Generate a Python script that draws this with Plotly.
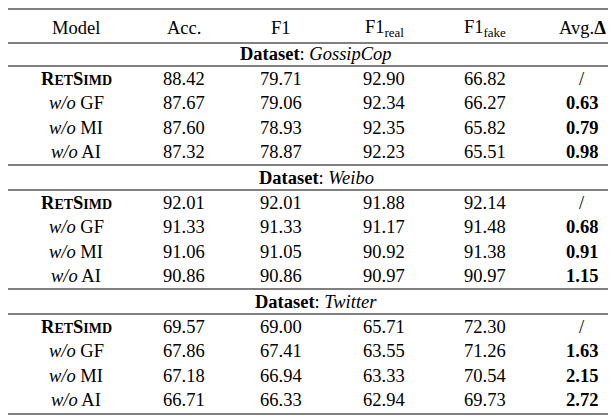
import plotly.graph_objects as go

W, H = 616, 420
headers = ["Model", "Acc.", "F1", "F1<sub>real</sub>", "F1<sub>fake</sub>", "Avg.<b>Δ</b>"]
datasets = ["GossipCop", "Weibo", "Twitter"]
models = ["<b>R<span style='font-size:14px'>ET</span>S<span style='font-size:14px'>IMD</span></b>",
          "<i>w/o</i> GF", "<i>w/o</i> MI", "<i>w/o</i> AI"]
acc = [[88.42, 87.67, 87.60, 87.32], [92.01, 91.33, 91.06, 90.86], [69.57, 67.86, 67.18, 66.71]]
f1 = [[79.71, 79.06, 78.93, 78.87], [92.01, 91.33, 91.05, 90.86], [69.00, 67.41, 66.94, 66.33]]
f1_real = [[92.90, 92.34, 92.35, 92.23], [91.88, 91.17, 90.92, 90.97], [65.71, 63.55, 63.33, 62.94]]
f1_fake = [[66.82, 66.27, 65.82, 65.51], [92.14, 91.48, 91.38, 90.97], [72.30, 71.26, 70.54, 69.73]]
avg_delta = [["/", "0.63", "0.79", "0.98"], ["/", "0.68", "0.91", "1.15"], ["/", "1.63", "2.15", "2.72"]]

col_x = [68, 176, 273, 376, 477, 574]
font = dict(family="Liberation Serif", size=18.5, color="black")

fig = go.Figure()
ann = []
def add(x, y, t):
    ann.append(dict(x=x, y=y, text=t, showarrow=False, xref="x", yref="y",
                    xanchor="center", yanchor="middle", font=font))

for x, h in zip(col_x, headers):
    add(x, 20, h)
shapes = []
def hline(y):
    shapes.append(dict(type="line", x0=0, x1=W, y0=y, y1=y, xref="x", yref="y",
                       line=dict(color="black", width=1)))
hline(1); hline(35); hline(406)
block_y = [46, 170, 294]
for d, name in enumerate(datasets):
    y0 = block_y[d]
    add(308, y0, f"<b>Dataset</b>: <i>{name}</i>")
    for r in range(4):
        y = y0 + 24.5 * (r + 1)
        vals = [models[r], f"{acc[d][r]:.2f}", f"{f1[d][r]:.2f}", f"{f1_real[d][r]:.2f}",
                f"{f1_fake[d][r]:.2f}",
                avg_delta[d][r] if r == 0 else f"<b>{avg_delta[d][r]}</b>"]
        for x, v in zip(col_x, vals):
            add(x, y, v)
    if d < 2:
        hline(block_y[d + 1] - 13)
    hline(y0 + 12)

fig.add_trace(go.Scatter(x=[0, W], y=[0, H], mode="markers", marker=dict(opacity=0), hoverinfo="skip"))
fig.update_layout(width=W, height=H, margin=dict(l=0, r=0, t=0, b=0),
                  paper_bgcolor="white", plot_bgcolor="white", showlegend=False,
                  annotations=ann, shapes=shapes,
                  xaxis=dict(range=[0, W], visible=False, fixedrange=True),
                  yaxis=dict(range=[H, 0], visible=False, fixedrange=True))
fig.write_html("out.html", config={"displayModeBar": False})
